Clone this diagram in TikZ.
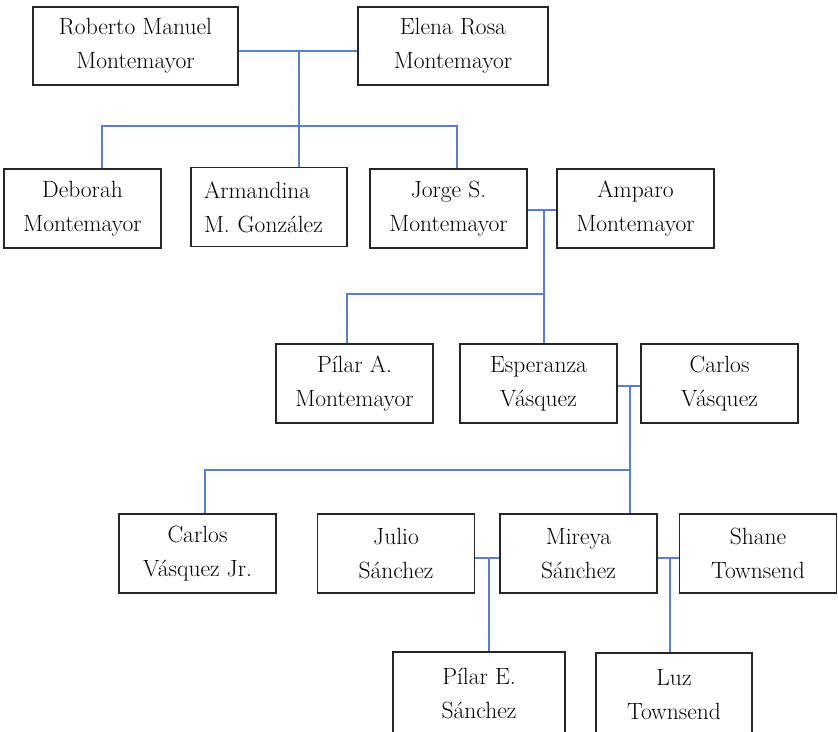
\documentclass[tikz,border=0pt]{standalone}
\usepackage{tikz}
\definecolor{linkblue}{RGB}{86,128,212}

\begin{document}
\begin{tikzpicture}[x=1pt,y=-1pt]
    \tikzstyle{person}=[rectangle,draw=black!85,line width=1.2pt,minimum width=157pt,minimum height=79pt,inner sep=0pt,align=center,font=\fontsize{23.5}{34}\selectfont]
    \tikzstyle{link}=[draw=linkblue,line width=1.1pt]
    \useasboundingbox (0,0) rectangle (838,731);

    % Draw the grandparents
    \node[person,minimum width=205pt,minimum height=78pt] (Rob) at (135.5,46) {Roberto Manuel\\Montemayor};
    \node[person,minimum width=190pt,minimum height=78pt] (Ele) at (453,46) {Elena Rosa\\Montemayor};

    % Draw their children and the in-law
    \foreach \name/\x/\txt in {Deb/82.5/{Deborah\\Montemayor},Jor/448.5/{Jorge S.\\Montemayor},Amp/635.5/{Amparo\\Montemayor}}
        \node[person] (\name) at (\x,208.5) {\txt};
    \node[person,minimum width=156pt,text width=130pt,align=left] (Arm) at (269,207) {Armandina\\M. Gonz\'alez};

    % Draw the third row
    \foreach \name/\x/\txt in {PilA/354.5/{P\'ilar A.\\Montemayor},Esp/538.5/{Esperanza\\V\'asquez},Car/719.5/{Carlos\\V\'asquez}}
        \node[person] (\name) at (\x,383.5) {\txt};

    % Draw the fourth row
    \foreach \name/\x/\txt in {CarJ/197.5/{Carlos\\V\'asquez Jr.},Jul/396/{Julio\\S\'anchez},Mir/578.5/{Mireya\\S\'anchez},Sha/758/{Shane\\Townsend}}
        \node[person] (\name) at (\x,553.5) {\txt};

    % Draw the last row (cut by the page)
    \node[person,minimum width=172pt,minimum height=84pt] (PilE) at (479,694) {P\'ilar E.\\S\'anchez};
    \node[person,minimum width=156pt,minimum height=84pt] (Luz) at (674,695) {Luz\\Townsend};

    % Junctions of the couples and the sibling bars
    \coordinate (c1) at (299,51);
    \coordinate (b1a) at (102,126);
    \coordinate (b1b) at (457,126);
    \coordinate (c2) at (544,210);
    \coordinate (b2) at (347,294);
    \coordinate (c3) at (630,386);
    \coordinate (b3) at (205,470);
    \coordinate (c4) at (489,558);
    \coordinate (c5) at (670,558);

    % Connect the couples
    \path[link] (Rob.east |- c1) edge (Ele.west |- c1);
    \path[link] (Jor.east |- c2) edge (Amp.west |- c2);
    \path[link] (Esp.east |- c3) edge (Car.west |- c3);
    \path[link] (Jul.east |- c4) edge (Mir.west |- c4);
    \path[link] (Mir.east |- c5) edge (Sha.west |- c5);

    % Connect every couple with its children
    \draw[link] (c1) -- (c1 |- Arm.north);
    \draw[link] (b1a |- Deb.north) -- (b1a) -- (b1b) -- (b1b |- Jor.north);
    \draw[link] (c2) -- (c2 |- Esp.north);
    \draw[link] (b2 |- PilA.north) -- (b2) -- (c2 |- b2);
    \draw[link] (c3) -- (c3 |- Mir.north);
    \draw[link] (b3 |- CarJ.north) -- (b3) -- (c3 |- b3);
    \draw[link] (c4) -- (c4 |- PilE.north);
    \draw[link] (c5) -- (c5 |- Luz.north);

\end{tikzpicture}
\end{document}
